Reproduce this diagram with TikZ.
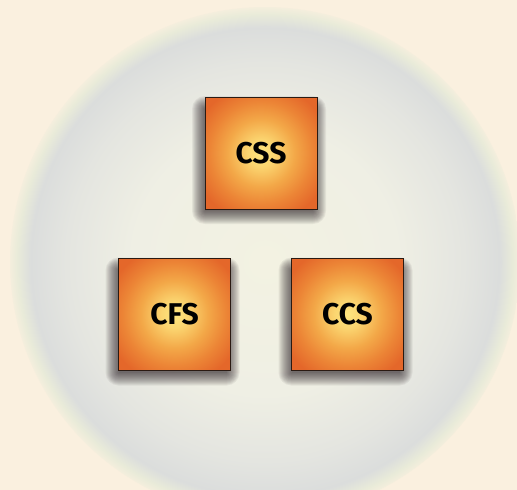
\documentclass[tikz,border=0pt]{standalone}
\usepackage{fontspec}
\setmainfont{Fira Sans}
\definecolor{bgcream}{HTML}{FAF0DF}
\definecolor{boxline}{HTML}{2A1A12}
\definecolor{shadowc}{HTML}{2A2026}
\definecolor{glowA}{HTML}{FDE57F}
\definecolor{glowB}{HTML}{FBD570}
\definecolor{glowC}{HTML}{F3A848}
\definecolor{glowE}{HTML}{EC8536}
\definecolor{glowD}{HTML}{E4672A}
\definecolor{haloA}{HTML}{F3F2E2}
\definecolor{haloB}{HTML}{EFEFE4}
\definecolor{haloC}{HTML}{E4E5E0}
\definecolor{haloD}{HTML}{DBDDDC}
\definecolor{haloE}{HTML}{E9EBD9}
\pgfdeclareradialshading{boxglow}{\pgfpointorigin}{color(0bp)=(glowA); color(6bp)=(glowB); color(15bp)=(glowC); color(23bp)=(glowE); color(31bp)=(glowD); color(50bp)=(glowD)}
\pgfdeclareradialshading{halo}{\pgfpointorigin}{color(0bp)=(haloA); color(13bp)=(haloB); color(19.5bp)=(haloC); color(23bp)=(haloD); color(24.3bp)=(haloE); color(25.4bp)=(bgcream); color(50bp)=(bgcream)}
\begin{document}
\begin{tikzpicture}[x=1pt,y=-1pt,
  sq/.style={draw=boxline, line width=1pt, minimum size=112pt, inner sep=0pt,
    shade, shading=boxglow, font=\fontsize{30}{30}\selectfont\bfseries},
  softshadow/.style={fill=shadowc, opacity=0.065}]
\useasboundingbox (0,0) rectangle (517,490);
\fill[bgcream] (0,0) rectangle (517,490);
\begin{scope}
\clip (0,0) rectangle (517,490);
\shade[shading=halo] (265,262) circle[radius=255];
\end{scope}
\coordinate (pcss) at (261,153);
\coordinate (pcfs) at (174.5,314.5);
\coordinate (pccs) at (347.5,314.5);
\foreach \p in {pcss,pcfs,pccs}{
  \foreach \k in {0,...,13}{
    \fill[softshadow, rounded corners=\k pt] ([shift={(-56-\k,-44-\k)}]\p) rectangle ([shift={(52+\k,58+\k)}]\p);
  }
}
\node[sq] (css) at (pcss) {CSS};
\node[sq] (cfs) at (pcfs) {CFS};
\node[sq] (ccs) at (pccs) {CCS};
\end{tikzpicture}
\end{document}
